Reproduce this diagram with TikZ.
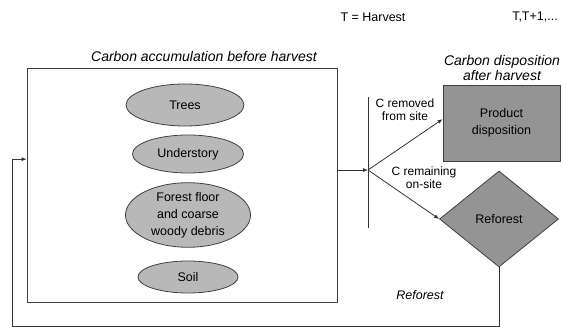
\documentclass[tikz,border=0pt]{standalone}
\usepackage{fontspec}
\setmainfont{Liberation Sans}
\usetikzlibrary{shapes.geometric,arrows.meta,positioning,calc}

\begin{document}
\begin{tikzpicture}[
    x=1pt, y=-1pt,
    pool/.style={ellipse, draw=black!75, fill=black!28, thick, inner sep=0pt, align=center, font=\fontsize{12.5}{17}\selectfont},
    products/.style={rectangle, draw=black!75, fill=black!42, thick, minimum width=117pt, minimum height=76pt, align=center, font=\fontsize{12.5}{17}\selectfont},
    regrow/.style={diamond, draw=black!75, fill=black!42, thick, minimum width=119pt, minimum height=96pt, inner sep=0pt, font=\fontsize{12.5}{15}\selectfont},
    heading/.style={align=center, font=\fontsize{14}{15}\selectfont\itshape},
    flowlabel/.style={align=center, font=\fontsize{12}{13}\selectfont},
    flow/.style={-{Latex[length=5pt,width=4pt]}, thick, black!80},
]
\useasboundingbox (0,0) rectangle (563,328);

% Time steps
\node (tharvest) at (373,17) {\fontsize{12.5}{14}\selectfont T = Harvest};
\node (tlater) at (535,17) {\fontsize{12.5}{14}\selectfont T,T+1,...};

% Carbon accumulation before harvest
\node[draw=black!75, thick, minimum width=310pt, minimum height=234pt] (stand) at (182,185) {};
\node[heading] (standtitle) at (204,57) {Carbon accumulation before harvest};
\node[pool, minimum width=118pt, minimum height=42pt] (trees) at (185,105) {Trees};
\node[pool, minimum width=111pt, minimum height=38pt] (understory) at (188,154) {Understory};
\node[pool, minimum width=125pt, minimum height=64pt] (floor) at (188,215) {Forest floor\\and coarse\\woody debris};
\node[pool, minimum width=100pt, minimum height=32pt] (soil) at (188,277) {Soil};

% Harvest split
\coordinate (bartop) at (368,97);
\coordinate (barbot) at (368,228);
\coordinate (split) at (368,170);
\draw[thick, black!80] (bartop) -- (barbot);

% Carbon disposition after harvest
\node[heading] (disptitle) at (502,68) {Carbon disposition\\after harvest};
\node[products] (product) at (501.5,123) {Product\\disposition};
\node[regrow] (reforest) at (499,219) {Reforest};

% Labels
\node[flowlabel] (removed) at (405,110) {C removed\\from site};
\node[flowlabel] (remaining) at (424,178) {C remaining\\on-site};
\node[heading, font=\fontsize{12.5}{14}\selectfont\itshape] (relabel) at (420,295) {Reforest};

% Arrows
\coordinate (loopleft) at (12,326);
\draw[flow] (stand.east |- split) -- (split);
\draw[flow] (split) -- ($(product.north west)!0.45!(product.south west)$);
\draw[flow] (split) -- (reforest.west);
\draw[flow] (reforest.south) -- (reforest.south |- loopleft) -- (loopleft)
    |- ($(stand.north west)!0.39!(stand.south west)$);

\end{tikzpicture}
\end{document}
